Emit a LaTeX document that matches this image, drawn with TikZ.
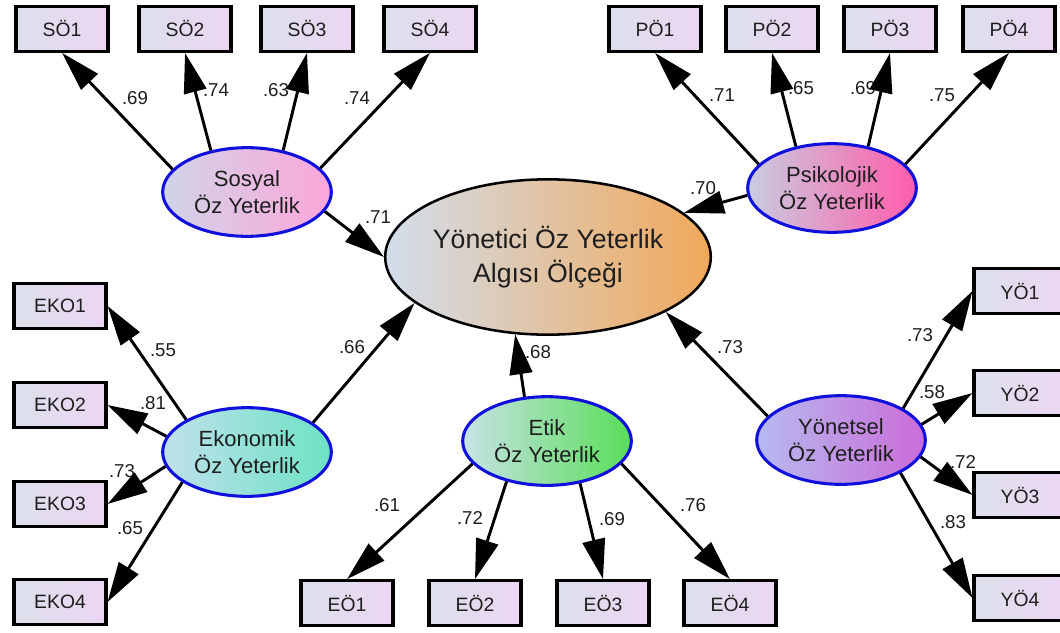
\documentclass[tikz,border=0pt]{standalone}
\usepackage{fontspec}
\setmainfont{Liberation Sans}
\usetikzlibrary{arrows.meta,shapes.geometric}
\definecolor{txt}{RGB}{30,30,30}
\definecolor{boxL}{RGB}{220,224,236}
\definecolor{boxR}{RGB}{236,214,242}
\definecolor{latB}{RGB}{16,16,220}
\definecolor{sosL}{RGB}{208,212,232}
\definecolor{sosR}{RGB}{252,166,218}
\definecolor{psiL}{RGB}{200,205,226}
\definecolor{psiR}{RGB}{255,92,170}
\definecolor{cenL}{RGB}{210,222,236}
\definecolor{cenR}{RGB}{240,168,90}
\definecolor{ekoL}{RGB}{192,224,236}
\definecolor{ekoR}{RGB}{108,226,196}
\definecolor{etkL}{RGB}{200,226,230}
\definecolor{etkR}{RGB}{88,222,88}
\definecolor{yntL}{RGB}{182,186,240}
\definecolor{yntR}{RGB}{202,108,216}
\begin{document}
\begin{tikzpicture}[x=0.75pt,y=-0.75pt,
  obs/.style={rectangle, draw=black, line width=2.3pt, minimum width=69pt, minimum height=33.5pt, inner sep=0pt, left color=boxL, right color=boxR, font=\fontsize{14.5}{16}\selectfont, text=txt},
  lat/.style={ellipse, draw=latB, line width=2.3pt, minimum width=126.5pt, minimum height=66.5pt, inner sep=0pt, align=center, font=\fontsize{16.5}{20}\selectfont, text=txt},
  con/.style={line width=2.2pt, -{Triangle[length=30pt,width=17pt]}},
  coef/.style={font=\fontsize{14}{16}\selectfont, inner sep=0pt, text=txt}
]
\useasboundingbox (0,0) rectangle (1060,632);
\fill[white] (0,0) rectangle (1060,632);
\clip (0,0) rectangle (1060,632);

% observed boxes
\node[obs] (so1) at (62,29) {SÖ1};
\node[obs] (so2) at (185,29) {SÖ2};
\node[obs] (so3) at (307,29) {SÖ3};
\node[obs] (so4) at (430,29) {SÖ4};
\node[obs] (po1) at (655,29) {PÖ1};
\node[obs] (po2) at (772,29) {PÖ2};
\node[obs] (po3) at (890,29) {PÖ3};
\node[obs] (po4) at (1009,29) {PÖ4};
\node[obs] (ek1) at (60,306) {EKO1};
\node[obs] (ek2) at (60,405) {EKO2};
\node[obs] (ek3) at (60,504) {EKO3};
\node[obs] (ek4) at (60,602) {EKO4};
\node[obs] (eo1) at (347,603) {EÖ1};
\node[obs] (eo2) at (475,603) {EÖ2};
\node[obs] (eo3) at (603,603) {EÖ3};
\node[obs] (eo4) at (730,603) {EÖ4};
\node[obs] (yo1) at (1020,291) {YÖ1};
\node[obs] (yo2) at (1020,393) {YÖ2};
\node[obs] (yo3) at (1020,495) {YÖ3};
\node[obs] (yo4) at (1020,598) {YÖ4};

% latent ellipses
\node[lat, left color=sosL, right color=sosR] (sos) at (247,192) {Sosyal\\Öz Yeterlik};
\node[lat, left color=psiL, right color=psiR] (psi) at (832,188) {Psikolojik\\Öz Yeterlik};
\node[lat, left color=ekoL, right color=ekoR] (eko) at (247,452) {Ekonomik\\Öz Yeterlik};
\node[lat, left color=etkL, right color=etkR] (etk) at (547,441) {Etik\\Öz Yeterlik};
\node[lat, left color=yntL, right color=yntR] (ynt) at (841,440) {Yönetsel\\Öz Yeterlik};
\node[ellipse, draw=black, line width=1.9pt, minimum width=229pt, minimum height=116.5pt, inner sep=0pt, left color=cenL, right color=cenR, align=center, text=txt, font=\fontsize{20}{25}\selectfont] (cen) at (548,257) {Yönetici Öz Yeterlik\\Algısı Ölçeği};

% coefficients
\node[coef] (c1) at (135,98) {.69};
\node[coef] (c2) at (216,90) {.74};
\node[coef] (c3) at (276,90) {.63};
\node[coef] (c4) at (357,98) {.74};
\node[coef] (c5) at (378,217) {.71};
\node[coef] (c6) at (722,95) {.71};
\node[coef] (c7) at (801,88) {.65};
\node[coef] (c8) at (863,88) {.69};
\node[coef] (c9) at (942,95) {.75};
\node[coef] (c10) at (703,188) {.70};
\node[coef] (c11) at (352,347) {.66};
\node[coef] (c12) at (538,352) {.68};
\node[coef] (c13) at (730,347) {.73};
\node[coef] (c14) at (163,350) {.55};
\node[coef] (c15) at (153,403) {.81};
\node[coef] (c16) at (122,471) {.73};
\node[coef] (c17) at (130,528) {.65};
\node[coef] (c18) at (387,505) {.61};
\node[coef] (c19) at (470,518) {.72};
\node[coef] (c20) at (612,519) {.69};
\node[coef] (c21) at (693,505) {.76};
\node[coef] (c22) at (920,335) {.73};
\node[coef] (c23) at (932,392) {.58};
\node[coef] (c24) at (963,462) {.72};
\node[coef] (c25) at (953,522) {.83};

% connectors
\draw[con] (sos.163) -- (so1.south);
\draw[con] (sos.131) -- (so2.south);
\draw[con] (sos.49) -- (so3.south);
\draw[con] (sos.18) -- (so4.south);
\draw[con] (psi.162) -- (po1.south);
\draw[con] (psi.131) -- (po2.south);
\draw[con] (psi.49) -- (po3.south);
\draw[con] (psi.18) -- (po4.south);
\draw[con] (eko.152) -- (ek1.east);
\draw[con] (eko.169) -- (ek2.east);
\draw[con] (eko.190) -- (ek3.east);
\draw[con] (eko.205) -- (ek4.east);
\draw[con] (etk.197) -- (eo1.north);
\draw[con] (etk.225) -- (eo2.north);
\draw[con] (etk.308) -- (eo3.north);
\draw[con] (etk.343) -- (eo4.north);
\draw[con] (ynt.27) -- (yo1.west);
\draw[con] (ynt.11) -- (yo2.west);
\draw[con] (ynt.348) -- (yo3.west);
\draw[con] (ynt.331) -- (yo4.west);
\draw[con] (sos.-14) -- (cen.180);
\draw[con] (psi.185) -- (cen.18);
\draw[con] (eko.24) -- (cen.199);
\draw[con] (etk.117) -- (cen.247);
\draw[con] (ynt.162) -- (cen.335);
\end{tikzpicture}
\end{document}
